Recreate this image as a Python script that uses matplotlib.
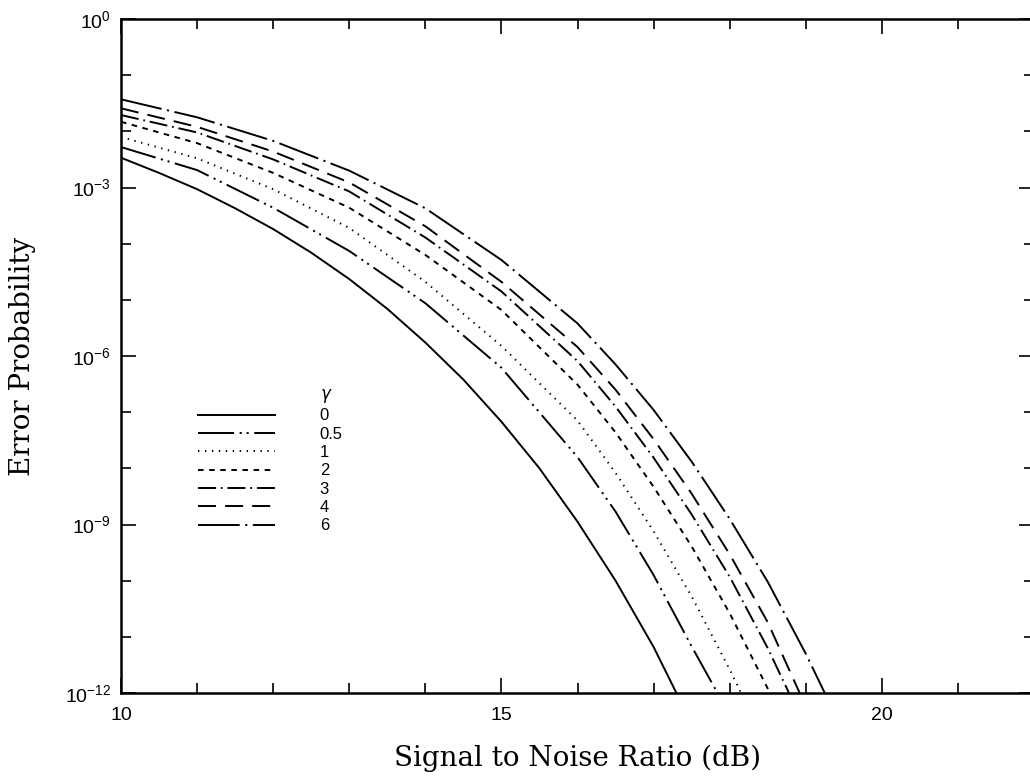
import numpy as np
import matplotlib
matplotlib.use("Agg")
import matplotlib.pyplot as plt
from matplotlib.lines import Line2D
from matplotlib.ticker import FixedLocator, NullFormatter

plt.rcParams['lines.scale_dashes'] = False
plt.rcParams['font.family'] = ['Liberation Sans', 'DejaVu Sans']
plt.rcParams['mathtext.default'] = 'regular'

# valores (SNR em dB, log10 da probabilidade de erro)
snr_g0 = [10, 10.5, 11, 11.5, 12, 12.5, 13, 13.5, 14, 14.5, 15, 15.5, 16, 16.5, 17, 17.3]
logp_g0 = [-2.47, -2.74, -3.03, -3.37, -3.74, -4.16, -4.63, -5.16, -5.76, -6.42, -7.17, -8.00, -8.95, -10.00, -11.18, -12.0]

snr_g05 = [10, 11, 12, 13, 14, 15, 16, 16.5, 17, 17.5, 17.84]
logp_g05 = [-2.28, -2.69, -3.36, -4.13, -5.06, -6.21, -7.80, -8.77, -9.90, -11.17, -12.0]

snr_g1 = [10, 11, 12, 13, 14, 15, 16, 16.5, 17, 17.5, 18, 18.15]
logp_g1 = [-2.10, -2.48, -3.03, -3.72, -4.68, -5.82, -7.15, -8.08, -9.12, -10.28, -11.58, -12.0]

snr_g2 = [10, 11, 12, 13, 14, 15, 16, 16.5, 17, 17.5, 18, 18.53]
logp_g2 = [-1.83, -2.21, -2.74, -3.36, -4.20, -5.18, -6.51, -7.36, -8.33, -9.39, -10.58, -12.0]

snr_g3 = [10, 11, 12, 13, 14, 15, 16, 16.5, 17, 17.5, 18, 18.5, 18.78]
logp_g3 = [-1.71, -2.02, -2.50, -3.07, -3.89, -4.85, -6.09, -6.90, -7.81, -8.82, -9.93, -11.20, -12.0]

snr_g4 = [10, 11, 12, 13, 14, 15, 16, 16.5, 17, 17.5, 18, 18.5, 18.92]
logp_g4 = [-1.59, -1.92, -2.36, -2.91, -3.69, -4.68, -5.84, -6.60, -7.48, -8.45, -9.53, -10.74, -12.0]

snr_g6 = [10, 11, 12, 13, 14, 15, 16, 16.5, 17, 17.5, 18, 18.5, 19, 19.25]
logp_g6 = [-1.43, -1.75, -2.17, -2.70, -3.37, -4.29, -5.42, -6.15, -6.96, -7.88, -8.90, -10.02, -11.30, -12.0]

rotulos = ['0', '0.5', '1', '2', '3', '4', '6']
estilos = ['-',
           (0, (26, 4, 1.5, 3.5, 1.5, 4)),
           (0, (1, 4)),
           (0, (4, 4)),
           (0, (13, 3.5, 1.2, 3.5)),
           (0, (13, 6.5)),
           (0, (30, 4, 1.5, 4))]

curvas = [(snr_g0, logp_g0), (snr_g05, logp_g05), (snr_g1, logp_g1), (snr_g2, logp_g2),
          (snr_g3, logp_g3), (snr_g4, logp_g4), (snr_g6, logp_g6)]

fig = plt.figure(figsize=(10.3, 7.76), dpi=100)
ax = fig.add_axes([121/1030, 83/776, 913/1030, 674/776])

linhas = []
for (snr, logp), est, rot in zip(curvas, estilos, rotulos):
    l, = ax.plot(snr, 10.0 ** np.array(logp), linestyle=est, color='black', linewidth=1.4, label=rot)
    linhas.append(l)

ax.set_yscale('log')
ax.set_xlim(10, 22)
ax.set_ylim(1e-12, 1)

ax.xaxis.set_major_locator(FixedLocator([10, 15, 20]))
ax.xaxis.set_minor_locator(FixedLocator(np.arange(10, 23)))
ax.set_xticklabels(['10', '15', '20'])

ax.yaxis.set_major_locator(FixedLocator([1e0, 1e-3, 1e-6, 1e-9, 1e-12]))
ax.yaxis.set_minor_locator(FixedLocator(10.0 ** np.arange(-12, 1)))
ax.yaxis.set_minor_formatter(NullFormatter())
ax.set_yticklabels([r'$10^{0}$', r'$10^{-3}$', r'$10^{-6}$', r'$10^{-9}$', r'$10^{-12}$'])

ax.tick_params(which='both', direction='in', top=True, right=True, width=1.2, labelsize=14)
ax.tick_params(which='major', length=11)
ax.tick_params(which='minor', length=7)
ax.tick_params(axis='y', pad=7)
ax.tick_params(axis='x', pad=10)

for s in ax.spines.values():
    s.set_linewidth(1.8)

ax.set_xlabel('Signal to Noise Ratio (dB)', fontfamily='DejaVu Serif', fontsize=20)
ax.set_ylabel('Error Probability', fontfamily='DejaVu Serif', fontsize=20)
ax.xaxis.set_label_coords(0.5, -0.077)
ax.yaxis.set_label_coords(-0.093, 0.5)

# legenda com o gamma como primeira linha
vazio = Line2D([], [], linestyle='none')
ax.legend([vazio] + linhas, [r'$\mathit{\gamma}$'] + rotulos, loc='upper left',
          bbox_to_anchor=(198/1030, 1 - 387/776), bbox_transform=fig.transFigure,
          frameon=False, fontsize=12, handlelength=4.6, handletextpad=2.7,
          labelspacing=0.2, borderpad=0, borderaxespad=0)

plt.savefig('out.png', dpi=100)
